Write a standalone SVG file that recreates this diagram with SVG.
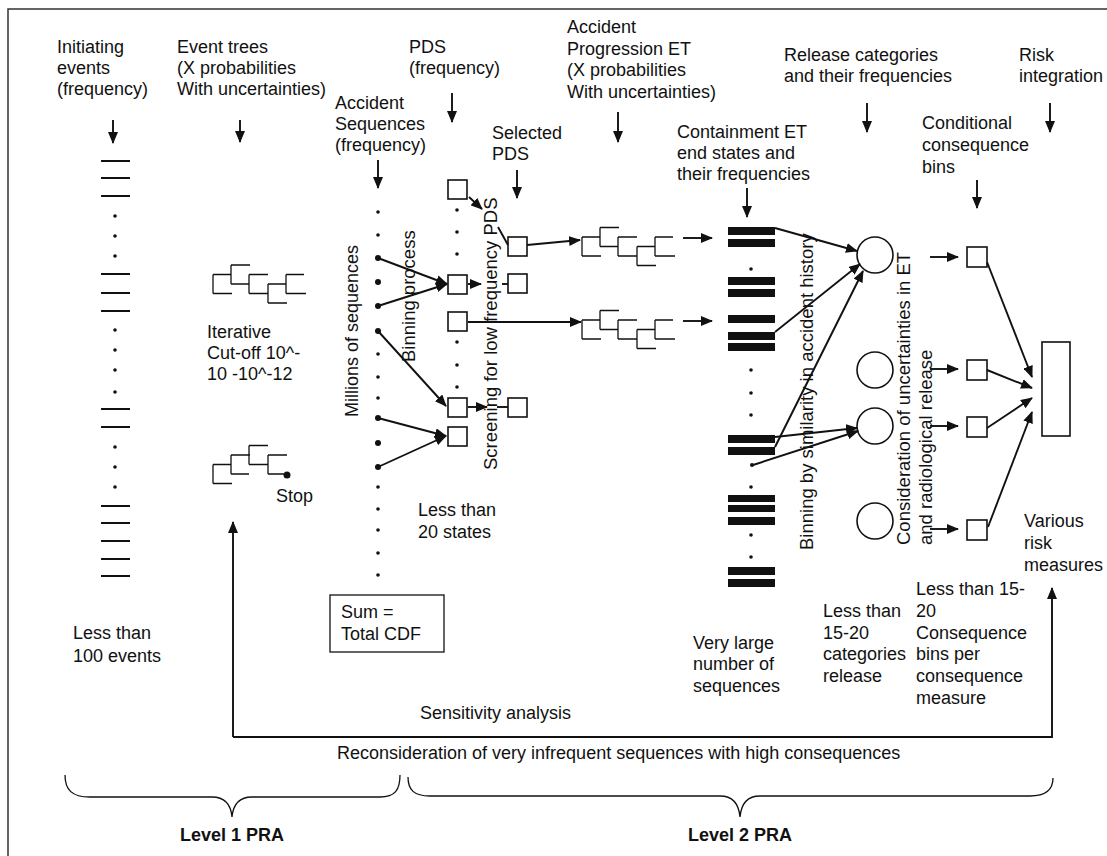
<svg xmlns="http://www.w3.org/2000/svg" width="1107" height="856" viewBox="0 0 1107 856">
<defs>
<style>
text{font-family:"Liberation Sans",Arial,Helvetica,sans-serif;font-size:18px;fill:#111}
.b{font-weight:bold}
.r{font-size:18.5px}
.ln{stroke:#111;stroke-width:1.9;fill:none}
.th{stroke:#111;stroke-width:1.3;fill:none}
.bx{fill:#fff;stroke:#111;stroke-width:1.6}
.bar{fill:#111}
.dot{fill:#111}
</style>
<marker id="ah" markerUnits="userSpaceOnUse" markerWidth="12" markerHeight="10" refX="11" refY="5" orient="auto" viewBox="0 0 12 10"><path d="M0,0 L12,5 L0,10 z" fill="#111"/></marker>
<path id="tree" class="th" d="M0,-9.5 V9.5 M0,-9.5 H18 M0,9.5 H19 M18,-19 V0 M18,-19 H37 M18,0 H36 M36,-9.5 V9.5 M36,-9.5 H55 M36,9.5 H55 M55,0 V19 M55,0 H73 M55,19 H74 M73,-9.5 V9.5 M73,-9.5 H91 M73,9.5 H93"/>
</defs>
<rect width="1107" height="856" fill="#fff"/>
<path d="M8,860 V9 H1107" fill="none" stroke="#333" stroke-width="1.5"/>

<g id="headers">
<text x="57" y="53">Initiating</text><text x="57" y="74">events</text><text x="57" y="95">(frequency)</text>
<text x="177" y="53">Event trees</text><text x="177" y="74">(X probabilities</text><text x="177" y="95">With uncertainties)</text>
<text x="409" y="53">PDS</text><text x="409" y="74">(frequency)</text>
<text x="335" y="109">Accident</text><text x="335" y="130">Sequences</text><text x="335" y="151">(frequency)</text>
<text x="492" y="139">Selected</text><text x="492" y="160">PDS</text>
<text x="567" y="33">Accident</text><text x="567" y="55">Progression ET</text><text x="567" y="76">(X probabilities</text><text x="567" y="98">With uncertainties)</text>
<text x="677" y="138">Containment ET</text><text x="677" y="159">end states and</text><text x="677" y="180">their frequencies</text>
<text x="784" y="61">Release categories</text><text x="784" y="82">and their frequencies</text>
<text x="1019" y="61">Risk</text><text x="1019" y="82">integration</text>
<text x="922" y="129">Conditional</text><text x="922" y="151">consequence</text><text x="922" y="173">bins</text>
</g>

<g id="initiating-events">
<path class="ln" d="M101,161 H130 M101,178 H130 M101,196 H130 M101,274 H130 M101,293 H130 M101,311 H130 M101,409 H130 M101,427 H130 M101,506 H130 M101,523 H130 M101,541 H130 M101,559 H130 M101,576 H130" stroke-width="1.5"/>
<g class="dot"><circle cx="115" cy="216" r="1.8"/><circle cx="115" cy="236" r="1.8"/><circle cx="115" cy="256" r="1.8"/><circle cx="115" cy="330" r="1.8"/><circle cx="115" cy="350" r="1.8"/><circle cx="115" cy="370" r="1.8"/><circle cx="115" cy="392" r="1.8"/><circle cx="115" cy="447" r="1.8"/><circle cx="115" cy="467" r="1.8"/><circle cx="115" cy="487" r="1.8"/></g>
<text x="73" y="639">Less than</text><text x="73" y="662">100 events</text>
</g>

<g id="event-trees">
<use href="#tree" x="213" y="284"/>
<text x="207" y="338">Iterative</text><text x="207" y="359">Cut-off 10^-</text><text x="207" y="380">10 -10^-12</text>
<path class="th" d="M213,464.5 V483.5 M213,464.5 H231 M213,483.5 H232 M231,455 V474 M231,455 H250 M231,474 H249 M249,445.5 V464.5 M249,445.5 H268 M249,464.5 H268 M268,455 V474 M268,455 H287 M268,474 H286"/>
<circle class="dot" cx="287" cy="475" r="3.5"/>
<text x="276" y="502">Stop</text>
</g>

<g id="accident-sequences">
<g class="dot">
<circle cx="378" cy="212" r="1.8"/><circle cx="378" cy="235" r="1.8"/><circle cx="378" cy="354" r="1.8"/><circle cx="378" cy="377" r="1.8"/><circle cx="378" cy="398" r="1.8"/><circle cx="378" cy="487" r="1.8"/><circle cx="378" cy="509" r="1.8"/><circle cx="378" cy="530" r="1.8"/><circle cx="378" cy="553" r="1.8"/><circle cx="378" cy="575" r="1.8"/>
<circle cx="378" cy="258" r="3"/><circle cx="378" cy="282" r="3"/><circle cx="378" cy="306" r="3"/><circle cx="378" cy="331" r="3"/><circle cx="378" cy="418" r="3"/><circle cx="378" cy="443" r="3"/><circle cx="378" cy="467" r="3"/>
</g>
<text transform="translate(358,417) rotate(-90)">Millions of sequences</text>
<rect x="330" y="595" width="114" height="57" fill="none" stroke="#111" stroke-width="1.3"/>
<text x="341" y="618">Sum =</text><text x="341" y="640">Total CDF</text>
</g>

<g id="pds">
<rect class="bx" x="448" y="180" width="19" height="19"/>
<rect class="bx" x="448" y="275" width="19" height="19"/>
<rect class="bx" x="448" y="312" width="19" height="19"/>
<rect class="bx" x="448" y="398" width="19" height="19"/>
<rect class="bx" x="448" y="427" width="19" height="19"/>
<g class="dot"><circle cx="457" cy="210" r="1.8"/><circle cx="457" cy="232" r="1.8"/><circle cx="457" cy="254" r="1.8"/><circle cx="457" cy="342" r="1.8"/><circle cx="457" cy="365" r="1.8"/><circle cx="457" cy="387" r="1.8"/></g>
<text class="r" transform="translate(415,362) rotate(-90)">Binning process</text>
<text x="418" y="516">Less than</text><text x="418" y="538">20 states</text>
</g>

<g id="selected-pds">
<rect class="bx" x="508" y="237" width="19" height="19"/>
<rect class="bx" x="508" y="274" width="19" height="19"/>
<rect class="bx" x="508" y="398" width="19" height="19"/>
<text class="r" transform="translate(497,470) rotate(-90)">Screening for low frequency PDS</text>
</g>

<g id="accident-progression-et">
<use href="#tree" x="582" y="246.5"/>
<use href="#tree" x="582" y="329.5"/>
</g>

<g id="containment-et">
<g class="bar">
<rect x="728" y="227" width="47" height="8"/><rect x="728" y="239" width="47" height="8"/>
<rect x="728" y="277" width="47" height="8"/><rect x="728" y="289" width="47" height="8"/>
<rect x="728" y="315" width="47" height="8"/><rect x="728" y="332" width="47" height="8"/><rect x="728" y="343" width="47" height="8"/>
<rect x="728" y="435" width="47" height="8"/><rect x="728" y="447" width="47" height="8"/>
<rect x="728" y="495" width="47" height="7"/><rect x="728" y="505" width="47" height="7"/><rect x="728" y="517" width="47" height="8"/>
<rect x="728" y="567" width="47" height="8"/><rect x="728" y="579" width="47" height="8"/>
</g>
<g class="dot"><circle cx="751" cy="269" r="1.8"/><circle cx="751" cy="370" r="1.8"/><circle cx="751" cy="393" r="1.8"/><circle cx="751" cy="415" r="1.8"/><circle cx="752" cy="465" r="2"/><circle cx="751" cy="487" r="1.8"/><circle cx="751" cy="535" r="1.8"/><circle cx="751" cy="557" r="1.8"/></g>
<text class="r" transform="translate(813,550) rotate(-90)">Binning by similarity in accident history</text>
<text x="693" y="649">Very large</text><text x="693" y="670">number of</text><text x="693" y="692">sequences</text>
</g>

<g id="release-categories">
<g fill="#fff" stroke="#111" stroke-width="1.6">
<circle cx="875" cy="255" r="18"/><circle cx="875" cy="370" r="18"/><circle cx="875" cy="426" r="18"/><circle cx="875" cy="521" r="18"/>
</g>
<text class="r" transform="translate(910,545) rotate(-90)">Consideration of uncertainties in ET</text>
<text class="r" transform="translate(932,545) rotate(-90)">and radiological release</text>
<text x="823" y="617">Less than</text><text x="823" y="639">15-20</text><text x="823" y="660">categories</text><text x="823" y="682">release</text>
</g>

<g id="consequence-bins">
<rect class="bx" x="967" y="247" width="20" height="20"/>
<rect class="bx" x="967" y="360" width="20" height="20"/>
<rect class="bx" x="967" y="417" width="20" height="20"/>
<rect class="bx" x="967" y="520" width="20" height="20"/>
<text x="916" y="595">Less than 15-</text><text x="916" y="617">20</text><text x="916" y="639">Consequence</text><text x="916" y="660">bins per</text><text x="916" y="682">consequence</text><text x="916" y="704">measure</text>
</g>

<g id="risk-measures">
<rect class="bx" x="1042" y="342" width="28" height="94"/>
<text x="1024" y="527">Various</text><text x="1024" y="549">risk</text><text x="1024" y="571">measures</text>
</g>

<g id="connectors" class="ln" marker-end="url(#ah)">
<line x1="113" y1="120" x2="113" y2="143"/>
<line x1="240" y1="120" x2="240" y2="142"/>
<line x1="452" y1="93" x2="452" y2="122"/>
<line x1="378" y1="160" x2="378" y2="188"/>
<line x1="517" y1="170" x2="517" y2="198"/>
<line x1="618" y1="112" x2="618" y2="142"/>
<line x1="747" y1="188" x2="747" y2="217"/>
<line x1="867" y1="103" x2="867" y2="132"/>
<line x1="1050" y1="103" x2="1050" y2="132"/>
<line x1="977" y1="180" x2="977" y2="208"/>
<line x1="378" y1="258" x2="447" y2="284"/>
<line x1="378" y1="306" x2="447" y2="284"/>
<line x1="378" y1="331" x2="446" y2="406"/>
<line x1="378" y1="418" x2="446" y2="436"/>
<line x1="378" y1="467" x2="446" y2="436"/>
<line x1="469" y1="197" x2="482" y2="209"/>
<line x1="498" y1="227" x2="508" y2="245" marker-end="none"/>
<line x1="468" y1="284" x2="481" y2="284"/>
<line x1="502" y1="284" x2="508" y2="284" marker-end="none"/>
<line x1="468" y1="322" x2="581" y2="322"/>
<line x1="468" y1="407" x2="487" y2="407"/>
<line x1="497" y1="407" x2="508" y2="407" marker-end="none"/>
<line x1="527" y1="245" x2="580" y2="240"/>
<line x1="683" y1="238" x2="712" y2="238"/>
<line x1="683" y1="321" x2="712" y2="321"/>
<line x1="775" y1="228" x2="857" y2="251"/>
<line x1="775" y1="332" x2="860" y2="264"/>
<line x1="775" y1="447" x2="863" y2="271"/>
<line x1="775" y1="437" x2="857" y2="428"/>
<line x1="753" y1="465" x2="858" y2="431"/>
<line x1="930" y1="257" x2="958" y2="257"/>
<line x1="930" y1="369" x2="958" y2="369"/>
<line x1="930" y1="426" x2="958" y2="426"/>
<line x1="930" y1="529" x2="958" y2="529"/>
<line x1="987" y1="262" x2="1032" y2="377"/>
<line x1="987" y1="370" x2="1032" y2="388"/>
<line x1="987" y1="428" x2="1032" y2="398"/>
<line x1="988" y1="527" x2="1032" y2="412"/>
<line x1="233" y1="737" x2="233" y2="522"/>
<path d="M233,737 H1052 V588"/>
</g>

<g id="feedback-labels">
<text x="420" y="719">Sensitivity analysis</text>
<text x="337" y="759">Reconsideration of very infrequent sequences with high consequences</text>
</g>

<g id="level-braces">
<path class="th" d="M65,775 C65,790 72,797 90,797 H212 C226,797 231,806 232,817 C233,806 238,797 252,797 H380 C395,797 400,790 400,775"/>
<path class="th" d="M408,777 C408,790 414,796 430,796 H720 C734,796 739,806 740,817 C741,806 746,796 760,796 H1030 C1046,796 1053,790 1053,778"/>
<text class="b" x="232" y="841" text-anchor="middle">Level 1 PRA</text>
<text class="b" x="740" y="841" text-anchor="middle">Level 2 PRA</text>
</g>
</svg>
